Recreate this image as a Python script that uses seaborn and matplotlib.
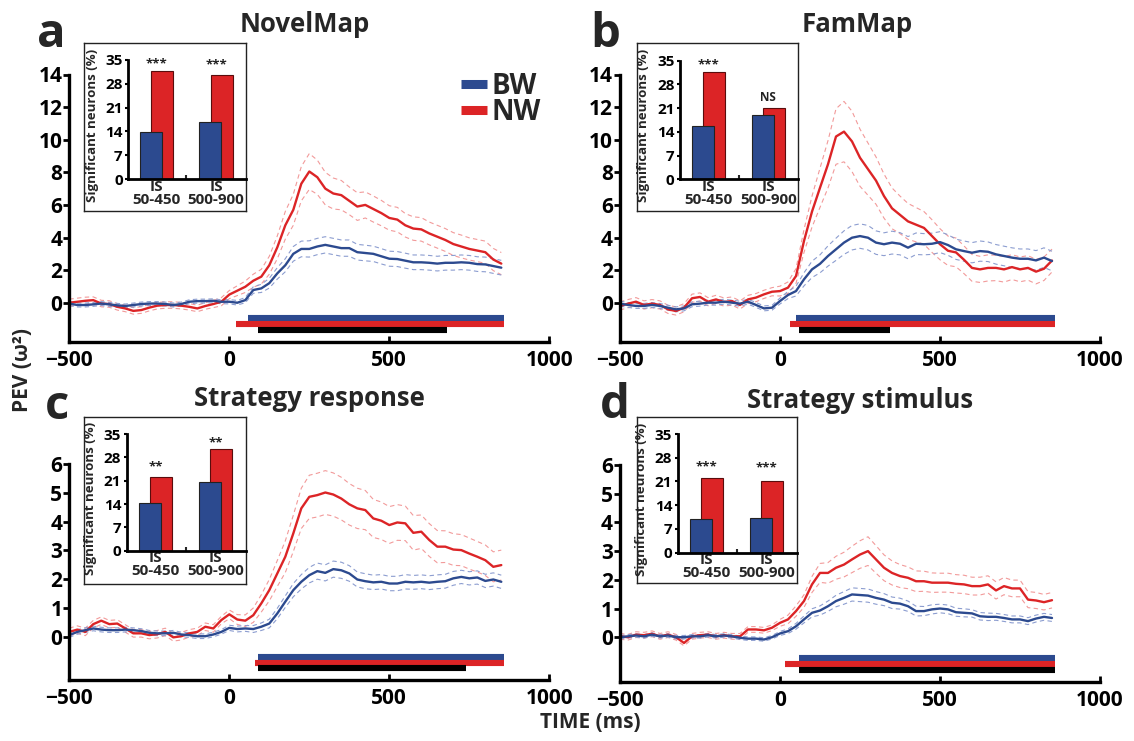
import numpy as np
import pandas as pd
import matplotlib
matplotlib.use("Agg")
import matplotlib.pyplot as plt
import seaborn as sns
from matplotlib.lines import Line2D

sns.set_style("ticks")
plt.rcParams["font.family"] = ["Open Sans", "DejaVu Sans"]
plt.rcParams["font.weight"] = "bold"
plt.rcParams["axes.labelweight"] = "bold"

W, H = 1134, 741
BLUE = "#2c4a8f"
RED = "#dc2426"
BLUE_D = "#8c9dd0"
RED_D = "#f29a9a"

# ---------------- data ----------------
time_ms = list(range(-500, 851, 25))

a_red = [0.0, 0.06, 0.12, 0.16, -0.05, -0.08, -0.25, -0.35, -0.5, -0.45, -0.3, -0.18, -0.14, -0.14, -0.18, -0.25, -0.35, -0.2, -0.08, 0.06,
         0.5, 0.74, 0.98, 1.35, 1.6, 2.3, 3.4, 4.75, 5.7, 7.3, 8.05, 7.7, 7.0, 6.7, 6.6, 6.25, 5.9, 6.0, 5.75, 5.5,
         5.2, 5.1, 4.75, 4.55, 4.5, 4.25, 4.05, 3.85, 3.6, 3.45, 3.3, 3.2, 3.1, 2.65, 2.4]
a_blue = [-0.05, -0.14, -0.14, -0.1, -0.05, -0.1, -0.16, -0.2, -0.14, -0.08, -0.05, -0.05, -0.08, -0.14, -0.08, 0.06, 0.1, 0.1, 0.12, 0.06,
          0.06, 0.0, 0.16, 0.78, 0.88, 1.2, 1.8, 2.3, 3.0, 3.3, 3.3, 3.45, 3.55, 3.45, 3.35, 3.35, 3.1, 3.05, 3.0, 2.85,
          2.7, 2.68, 2.58, 2.48, 2.48, 2.45, 2.4, 2.45, 2.45, 2.48, 2.45, 2.37, 2.35, 2.25, 2.15]
a_red_sem = [0.22, 0.22, 0.22, 0.2, 0.2, 0.2, 0.2, 0.2, 0.2, 0.2, 0.2, 0.2, 0.2, 0.2, 0.2, 0.2, 0.2, 0.2, 0.22, 0.25,
             0.25, 0.3, 0.35, 0.4, 0.45, 0.55, 0.7, 0.85, 0.95, 1.05, 1.1, 1.05, 1.0, 0.95, 0.9, 0.85, 0.85, 0.8, 0.8, 0.78,
             0.75, 0.75, 0.72, 0.72, 0.72, 0.7, 0.7, 0.7, 0.7, 0.7, 0.68, 0.68, 0.68, 0.68, 0.68]
a_blue_sem = [0.12, 0.12, 0.12, 0.12, 0.12, 0.12, 0.12, 0.12, 0.12, 0.12, 0.12, 0.12, 0.12, 0.12, 0.12, 0.12, 0.12, 0.12, 0.12, 0.12,
              0.13, 0.14, 0.16, 0.2, 0.25, 0.3, 0.35, 0.4, 0.45, 0.48, 0.5, 0.5, 0.5, 0.5, 0.5, 0.5, 0.48, 0.48, 0.47, 0.47,
              0.46, 0.46, 0.46, 0.45, 0.45, 0.45, 0.45, 0.45, 0.45, 0.45, 0.45, 0.45, 0.45, 0.45, 0.45]

b_red = [-0.18, -0.04, 0.08, -0.12, -0.04, -0.12, -0.39, -0.49, -0.29, 0.29, 0.37, 0.08, 0.22, 0.06, 0.12, -0.12, 0.22, 0.33, 0.53, 0.69,
         0.73, 0.94, 1.65, 3.8, 5.6, 7.06, 8.5, 10.2, 10.5, 9.9, 8.9, 8.2, 7.5, 6.55, 5.8, 5.4, 5.0, 4.8, 4.6, 4.1,
         3.6, 3.2, 3.1, 2.65, 2.15, 2.06, 2.15, 2.15, 2.06, 2.2, 2.06, 2.15, 1.92, 2.1, 2.6]
b_blue = [-0.04, -0.12, -0.18, -0.18, -0.12, -0.18, -0.29, -0.39, -0.33, -0.08, -0.04, 0.02, 0.02, 0.08, 0.02, -0.04, 0.08, -0.12, -0.33, -0.29,
          0.12, 0.49, 0.73, 1.45, 2.06, 2.4, 2.88, 3.29, 3.7, 4.0, 4.1, 4.0, 3.7, 3.6, 3.7, 3.63, 3.39, 3.63, 3.6, 3.63,
          3.73, 3.55, 3.29, 3.18, 3.08, 3.18, 3.14, 2.98, 2.88, 2.78, 2.71, 2.71, 2.61, 2.78, 2.57]
b_red_sem = [0.25, 0.25, 0.25, 0.25, 0.25, 0.25, 0.25, 0.25, 0.25, 0.25, 0.25, 0.25, 0.25, 0.25, 0.25, 0.25, 0.25, 0.25, 0.25, 0.25,
             0.3, 0.35, 0.45, 0.7, 0.95, 1.2, 1.45, 1.7, 1.85, 1.85, 1.75, 1.6, 1.45, 1.35, 1.25, 1.15, 1.1, 1.05, 1.0, 1.0,
             0.95, 0.9, 0.88, 0.85, 0.82, 0.8, 0.8, 0.78, 0.78, 0.76, 0.76, 0.75, 0.75, 0.72, 0.7]
b_blue_sem = [0.15, 0.15, 0.15, 0.15, 0.15, 0.15, 0.15, 0.15, 0.15, 0.15, 0.15, 0.15, 0.15, 0.15, 0.15, 0.15, 0.15, 0.15, 0.15, 0.15,
              0.18, 0.22, 0.3, 0.4, 0.5, 0.55, 0.62, 0.68, 0.72, 0.75, 0.75, 0.75, 0.72, 0.7, 0.7, 0.68, 0.68, 0.66, 0.65, 0.65,
              0.64, 0.63, 0.62, 0.62, 0.62, 0.62, 0.6, 0.6, 0.6, 0.6, 0.6, 0.6, 0.6, 0.6, 0.6]

c_red = [0.17, 0.25, 0.17, 0.44, 0.56, 0.44, 0.46, 0.29, 0.12, 0.12, 0.06, 0.09, 0.17, -0.02, 0.02, 0.12, 0.17, 0.35, 0.29, 0.58,
         0.78, 0.6, 0.56, 0.75, 1.16, 1.62, 2.2, 2.78, 3.59, 4.46, 4.86, 4.92, 5.01, 4.94, 4.8, 4.6, 4.46, 4.4, 4.11, 4.03,
         3.88, 3.97, 3.94, 3.61, 3.65, 3.36, 3.13, 3.13, 3.03, 3.01, 2.89, 2.78, 2.66, 2.43, 2.49]
c_blue = [0.06, 0.17, 0.23, 0.29, 0.25, 0.23, 0.23, 0.25, 0.23, 0.2, 0.14, 0.12, 0.12, 0.14, 0.08, 0.06, 0.02, 0.02, 0.08, 0.17,
          0.31, 0.27, 0.29, 0.27, 0.35, 0.46, 0.81, 1.22, 1.62, 1.91, 2.14, 2.28, 2.22, 2.35, 2.31, 2.2, 1.99, 1.93, 1.89, 1.91,
          1.85, 1.85, 1.91, 1.89, 1.91, 1.88, 1.91, 1.93, 2.03, 2.08, 2.03, 2.06, 1.94, 1.99, 1.91]
c_red_sem = [0.13, 0.13, 0.13, 0.13, 0.13, 0.13, 0.13, 0.13, 0.13, 0.13, 0.13, 0.13, 0.13, 0.13, 0.13, 0.13, 0.13, 0.13, 0.13, 0.13,
             0.15, 0.17, 0.2, 0.25, 0.3, 0.37, 0.45, 0.55, 0.63, 0.7, 0.75, 0.76, 0.76, 0.75, 0.74, 0.72, 0.7, 0.68, 0.66, 0.65,
             0.64, 0.62, 0.6, 0.6, 0.58, 0.57, 0.56, 0.55, 0.55, 0.54, 0.54, 0.53, 0.53, 0.52, 0.52]
c_blue_sem = [0.08, 0.08, 0.08, 0.08, 0.08, 0.08, 0.08, 0.08, 0.08, 0.08, 0.08, 0.08, 0.08, 0.08, 0.08, 0.08, 0.08, 0.08, 0.08, 0.08,
              0.09, 0.1, 0.1, 0.12, 0.13, 0.15, 0.18, 0.2, 0.23, 0.25, 0.27, 0.28, 0.28, 0.28, 0.28, 0.27, 0.26, 0.26, 0.25, 0.25,
              0.25, 0.25, 0.25, 0.24, 0.24, 0.24, 0.24, 0.24, 0.24, 0.23, 0.23, 0.23, 0.23, 0.23, 0.23]

d_red = [0.03, 0.0, 0.09, 0.07, 0.12, 0.03, 0.09, 0.0, -0.2, 0.03, 0.07, 0.09, 0.03, 0.07, 0.03, 0.03, 0.27, 0.27, 0.24, 0.33,
         0.5, 0.62, 0.91, 1.26, 1.84, 2.24, 2.24, 2.42, 2.53, 2.71, 2.88, 3.0, 2.71, 2.42, 2.24, 2.13, 2.07, 1.95, 1.95, 1.9,
         1.9, 1.9, 1.86, 1.84, 1.78, 1.78, 1.84, 1.63, 1.78, 1.7, 1.7, 1.31, 1.28, 1.22, 1.29]
d_blue = [0.0, 0.03, 0.06, 0.03, 0.09, 0.03, 0.06, 0.0, 0.0, 0.03, 0.03, 0.07, 0.03, 0.06, 0.03, -0.02, -0.05, -0.05, -0.08, 0.0,
          0.13, 0.21, 0.38, 0.62, 0.85, 0.93, 1.08, 1.26, 1.37, 1.49, 1.47, 1.45, 1.37, 1.31, 1.2, 1.17, 1.08, 0.91, 0.91, 0.97,
          1.0, 0.97, 0.87, 0.85, 0.83, 0.73, 0.71, 0.71, 0.67, 0.62, 0.62, 0.56, 0.65, 0.71, 0.67]
d_red_sem = [0.1, 0.1, 0.1, 0.1, 0.1, 0.1, 0.1, 0.1, 0.1, 0.1, 0.1, 0.1, 0.1, 0.1, 0.1, 0.1, 0.1, 0.1, 0.1, 0.1,
             0.12, 0.15, 0.18, 0.22, 0.28, 0.33, 0.36, 0.4, 0.43, 0.46, 0.48, 0.5, 0.48, 0.45, 0.42, 0.4, 0.38, 0.36, 0.35, 0.34,
             0.33, 0.33, 0.32, 0.32, 0.31, 0.31, 0.3, 0.3, 0.3, 0.29, 0.29, 0.28, 0.28, 0.27, 0.27]
d_blue_sem = [0.06, 0.06, 0.06, 0.06, 0.06, 0.06, 0.06, 0.06, 0.06, 0.06, 0.06, 0.06, 0.06, 0.06, 0.06, 0.06, 0.06, 0.06, 0.06, 0.06,
              0.07, 0.08, 0.1, 0.12, 0.14, 0.16, 0.18, 0.2, 0.22, 0.23, 0.23, 0.23, 0.22, 0.21, 0.2, 0.19, 0.18, 0.17, 0.16, 0.16,
              0.15, 0.15, 0.14, 0.14, 0.13, 0.13, 0.13, 0.12, 0.12, 0.12, 0.12, 0.12, 0.12, 0.12, 0.12]

# inset bar data (% significant neurons): [IS 50-450, IS 500-900]
inset_groups = ["IS\n50-450", "IS\n500-900"]
a_bar_bw, a_bar_nw = [13.8, 16.7], [31.6, 30.6]
b_bar_bw, b_bar_nw = [15.7, 19.0], [31.8, 21.1]
c_bar_bw, c_bar_nw = [14.4, 20.6], [22.2, 30.4]
d_bar_bw, d_bar_nw = [9.9, 10.2], [21.9, 21.1]
a_marks, a_mark_y = ["***", "***"], [35.0, 34.6]
b_marks, b_mark_y = ["***", "NS"], [35.0, 24.4]
c_marks, c_mark_y = ["**", "**"], [26.2, 33.4]
d_marks, d_mark_y = ["***", "***"], [26.4, 26.2]

# significance bars (start ms, end ms) for BW, NW, BW vs NW
a_sig = [(60, 860), (20, 860), (90, 680)]
b_sig = [(50, 860), (30, 860), (60, 345)]
c_sig = [(90, 860), (80, 860), (90, 740)]
d_sig = [(60, 860), (15, 860), (60, 860)]

titles = ["NovelMap", "FamMap", "Strategy response", "Strategy stimulus"]
letters = ["a", "b", "c", "d"]

for arr in [a_red, a_blue, a_red_sem, a_blue_sem, b_red, b_blue, b_red_sem, b_blue_sem,
            c_red, c_blue, c_red_sem, c_blue_sem, d_red, d_blue, d_red_sem, d_blue_sem]:
    assert len(arr) == len(time_ms), len(arr)

# ---------------- figure ----------------
fig = plt.figure(figsize=(W / 100, H / 100), dpi=100)


def fr(l, t, r, b):
    return [l / W, 1 - b / H, (r - l) / W, (b - t) / H]


def main_panel(box, ylim, yticks, red, blue, red_sem, blue_sem, sig, sig_y):
    ax = fig.add_axes(fr(*box))
    df = pd.DataFrame({"time": time_ms * 2,
                       "pev": list(red) + list(blue),
                       "group": ["NW"] * len(red) + ["BW"] * len(blue)})
    t = np.array(time_ms)
    for m, s, c in [(red, red_sem, RED_D), (blue, blue_sem, BLUE_D)]:
        m = np.array(m); s = np.array(s)
        for yv in (m + s, m - s):
            sns.lineplot(x=t, y=yv, ax=ax, color=c, lw=0.8, linestyle=(0, (4, 3)), legend=False)
    sns.lineplot(data=df, x="time", y="pev", hue="group", palette={"NW": RED, "BW": BLUE},
                 hue_order=["NW", "BW"], lw=1.7, ax=ax, legend=False, errorbar=None)
    for (x0, x1), yv, c in zip(sig, sig_y, [BLUE, RED, "black"]):
        ax.hlines(yv, x0, x1, color=c, lw=4.4, capstyle="butt")
    ax.set_xlim(-500, 1000)
    ax.set_ylim(*ylim)
    ax.set_xticks([-500, 0, 500, 1000])
    ax.set_yticks(yticks)
    sns.despine(ax=ax)
    for s in ["left", "bottom"]:
        ax.spines[s].set_linewidth(2.4)
        ax.spines[s].set_color("black")
    ax.tick_params(axis="x", direction="in", length=4, width=2, labelsize=15, pad=6, colors="black")
    ax.tick_params(axis="y", direction="out", length=4, width=2, labelsize=15, pad=1, colors="black")
    ax.set_xlabel("")
    ax.set_ylabel("")
    return ax


def inset(frame_box, inner_box, bw, nw, marks, mark_y):
    fax = fig.add_axes(fr(*frame_box))
    fax.set_xticks([])
    fax.set_yticks([])
    fax.set_facecolor("white")
    for s in fax.spines.values():
        s.set_linewidth(1.0)
        s.set_color("#222222")
    iax = fig.add_axes(fr(*inner_box))
    iax.patch.set_alpha(0)
    x = np.arange(len(inset_groups))
    iax.bar(x + 0.095, nw, width=0.37, color=RED, edgecolor="#5a0c0c", lw=0.8)
    iax.bar(x - 0.095, bw, width=0.37, color=BLUE, edgecolor="#222222", lw=0.8)
    for xi, mk, my in zip(x, marks, mark_y):
        off = 2.2 if "*" in mk else 1.3
        iax.text(xi, my - off, mk, ha="center", va="baseline", fontsize=9.5 if "*" in mk else 8.5,
                 color="#222222", clip_on=False)
    iax.set_xlim(-0.48, 1.5)
    iax.set_ylim(0, 35)
    iax.set_yticks([0, 7, 14, 21, 28, 35])
    iax.set_xticks(x)
    iax.set_xticklabels(inset_groups, linespacing=0.9)
    iax.set_xticks([0.5], minor=True)
    sns.despine(ax=iax)
    for s in ["left", "bottom"]:
        iax.spines[s].set_linewidth(2.0)
        iax.spines[s].set_color("black")
    iax.tick_params(axis="y", direction="out", length=2.5, width=1.5, labelsize=11, pad=1.5, colors="black")
    iax.tick_params(axis="x", which="major", length=0, labelsize=11, pad=0.5)
    iax.tick_params(axis="x", which="minor", direction="in", length=3, width=1.5)
    iax.set_ylabel("Significant neurons (%)", fontsize=9.5)
    iax.yaxis.set_label_coords(-0.25, 0.45)
    return iax


ax_a = main_panel((69.3, 74.5, 549.3, 341.7), (-2.39, 14), range(0, 15, 2),
                  a_red, a_blue, a_red_sem, a_blue_sem, a_sig, [-0.94, -1.31, -1.66])
ax_b = main_panel((620.0, 74.5, 1100.0, 342.0), (-2.39, 14), range(0, 15, 2),
                  b_red, b_blue, b_red_sem, b_blue_sem, b_sig, [-0.94, -1.31, -1.66])
ax_c = main_panel((69.3, 464.0, 549.3, 680.0), (-1.5, 6), range(0, 7),
                  c_red, c_blue, c_red_sem, c_blue_sem, c_sig, [-0.70, -0.91, -1.09])
ax_d = main_panel((620.0, 465.0, 1100.0, 681.7), (-1.55, 6), range(0, 7),
                  d_red, d_blue, d_red_sem, d_blue_sem, d_sig, [-0.73, -0.94, -1.13])

inset((84.3, 43.3, 245.7, 211.0), (128.3, 59.7, 245.7, 179.3), a_bar_bw, a_bar_nw, a_marks, a_mark_y)
inset((636.7, 42.7, 798.3, 210.7), (680.0, 60.7, 798.3, 179.3), b_bar_bw, b_bar_nw, b_marks, b_mark_y)
inset((84.3, 416.7, 245.7, 584.3), (126.7, 434.0, 245.7, 550.7), c_bar_bw, c_bar_nw, c_marks, c_mark_y)
inset((636.7, 416.7, 796.7, 583.3), (677.7, 434.0, 796.7, 552.7), d_bar_bw, d_bar_nw, d_marks, d_mark_y)

# legend in panel a
handles = [Line2D([0], [0], color=BLUE, lw=6.5, solid_capstyle="butt"),
           Line2D([0], [0], color=RED, lw=6.5, solid_capstyle="butt")]
leg = ax_a.legend(handles, ["BW", "NW"], loc="upper left", bbox_to_anchor=(461 / W, 1 - 72 / H),
                  bbox_transform=fig.transFigure, frameon=False, fontsize=20, handlelength=0.95,
                  handletextpad=0.15, labelspacing=-0.1, borderpad=0, borderaxespad=0)
for t in leg.get_texts():
    t.set_fontweight("bold")

# titles and panel letters
for (x, y), t in zip([(305, 25), (857, 25), (309, 399), (860, 400)], titles):
    fig.text(x / W, 1 - y / H, t, ha="center", va="center", fontsize=18.5, fontweight="bold")
for (x, y), t in zip([(51, 47), (605, 47), (57, 419), (615, 418)], letters):
    fig.text(x / W, 1 - y / H, t, ha="center", va="baseline", fontsize=34, fontweight="bold")

fig.text(22 / W, 1 - 370 / H, "PEV (ω²)", rotation=90, ha="center", va="center", fontsize=15, fontweight="bold")
fig.text(590 / W, 1 - 722 / H, "TIME (ms)", ha="center", va="center", fontsize=15, fontweight="bold")

fig.savefig("out.png", dpi=100)
